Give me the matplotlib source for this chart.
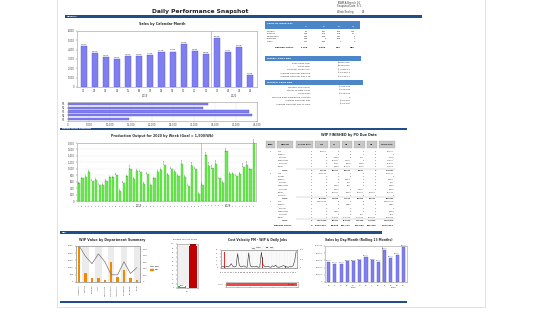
import matplotlib
matplotlib.use("Agg")
import matplotlib.pyplot as plt
from matplotlib.patches import Rectangle
from matplotlib.lines import Line2D

W, H = 560, 333
BLUE = '#1F4E8C'
HDR = '#4A86C8'
PURPLE = '#7F7FF2'
GREEN = '#6CEB4F'
ORANGE = '#F08A00'

# ---- data ----
month_labels = ['01', '02', '03', '04', '05', '06', '07', '08', '09', '10', '11', '12', '01', '02', '03', '04']
month_sales = [4371, 3652, 3224, 3040, 3302, 3359, 3458, 3718, 3793, 4629, 3873, 3536, 5249, 3757, 4278, 1316]

rep_labels = ['R1', 'R2', 'R3', 'R4', 'R5']
rep_sales = [33450, 32240, 43070, 43800, 14440]

weeks_2019 = list(range(17, 53))
output_2019 = [545, 700, 750, 910, 630, 650, 490, 490, 630, 730, 730, 800, 315, 565, 765, 1005, 690, 930,
               910, 525, 850, 490, 700, 910, 960, 1110, 805, 995, 910, 785, 1160, 755, 460, 1090, 985, 210]
weeks_2020 = list(range(1, 17))
output_2020 = [500, 1415, 1100, 1010, 1150, 700, 560, 1540, 830, 850, 790, 850, 1050, 1130, 980, 1800]

dept_names = ['Assembly', 'Cutting', 'Welding', 'Paint', 'Machining', 'Fabrication', 'Inspection', 'Packaging', 'Shipping', 'Other']
dept_wip = [2500, 630, 257, 304, 117, 1400, 350, 818, 280, 140]
dept_days = [5.5, 3.9, 2.8, 4.3, 3.1, 1.1, 1.1, 3.1, 1.3, 2.2]

share_labels = ['On Time', 'Late']
share_values = [3.5, 96.5]

velocity_actual = [3, 4, 2, 5, 3, 6, 12, 4, 3, 5, 40, 8, 3, 4, 6, 3, 2, 42, 6, 3, 4, 3, 5, 2,
                   3, 44, 10, 4, 3, 5, 3, 2, 6, 4, 8, 3, 2, 3, 5, 7, 4, 3, 2, 4, 3, 6, 20, 46]
velocity_plan = [0, 0, 45, 0, 0, 0, 0, 0, 0, 0, 0, 0, 0, 0, 0, 0, 0, 0, 0, 0, 0, 0, 0, 0,
                 0, 0, 30, 0, 0, 0, 0, 0, 0, 0, 0, 0, 0, 0, 0, 0, 6, 0, 0, 0, 0, 0, 0, 0]
velocity_total = 36000

roll_labels = ['04', '05', '06', '07', '08', '09', '10', '11', '12', '01', '02', '03', '04']
roll_sales = [56000, 51000, 50000, 58000, 58000, 61000, 70000, 61000, 56000, 89000, 68000, 75000, 98000]

weekday_cols = ['T1', 'T2', 'T3', 'T4']
weekday_rows = ['Monday', 'Tuesday', 'Wednesday', 'Thursday', 'Friday']
weekday_vals = [['70', '387', '165', '314'], ['313', '478', '115', '71'], ['313', '238', '341', '1'],
                ['346', '5', '188', '1'], ['317', '816', '7', '2']]
weekday_total = ['1,168', '1,895', '516', '388']

weekly_labels = ['2020 Sales Goal', 'Sales Total', 'Sales per Production', 'Average Sales per Machine', 'Average Sales per Day FTD']
weekly_vals = ['$2,800,000', '$2,233,922', '$ 4,800.12', '$ 18,322.4', '$ 13,054.2']
monthly_labels = ['Monthly Sales Goal', 'Month To Date Sales', 'Sales Days', 'Working Days Remaining in Month',
                  'Average Sales per Day', 'Average Sales per Day to Goal']
monthly_vals = ['$ 450,000', '$ 313,420', '$ 108,320', '5', '$ 22,540', '$ 18,276']

wip_cols = ['Line\nLevel', 'Weekday', 'No Due Date', 'OTD', 'W1', 'W2', 'W3', 'W4', 'Grand Total']
wip_rows = [
    ('1', 'OTD', '0', '74,000', '0', '0', '0', '0', '74,000'),
    ('', 'Monday', '0', '0', '0', '0', '0', '0', '0'),
    ('', 'Tuesday', '0', '0', '1,250', '0', '450', '0', '1,700'),
    ('', 'Wednesday', '0', '0', '22,187', '4,470', '0', '0', '26,657'),
    ('', 'Thursday', '0', '0', '7,157', '8,000', '2,360', '0', '17,517'),
    ('', 'Friday', '0', '0', '2,423', '12,100', '3,700', '0', '18,223'),
    ('', 'TOTAL', '0', '74,000', '33,017', '24,570', '6,510', '0', '138,097'),
    ('2', 'OTD', '0', '259,507', '0', '0', '0', '0', '259,507'),
    ('', 'Sunday', '0', '0', '0', '0', '0', '0', '0'),
    ('', 'Monday', '0', '0', '0', '4,543', '0', '0', '4,543'),
    ('', 'Tuesday', '0', '0', '0', '650', '0', '0', '650'),
    ('', 'Wednesday', '0', '0', '2,054', '126', '0', '0', '2,180'),
    ('', 'Thursday', '0', '0', '2,770', '0', '4,200', '0', '6,970'),
    ('', 'Friday', '0', '0', '10,012', '8,210', '20,120', '24,400', '62,742'),
    ('', 'Saturday', '0', '0', '0', '0', '0', '0', '0'),
    ('', 'TOTAL', '0', '259,507', '14,836', '13,529', '24,320', '24,400', '336,592'),
    ('3', 'OTD', '0', '1,090,000', '0', '0', '0', '0', '1,090,000'),
    ('', 'Monday', '0', '0', '0', '2,850', '0', '0', '2,850'),
    ('', 'Tuesday', '0', '0', '0', '0', '0', '0', '0'),
    ('', 'Wednesday', '0', '0', '2,520', '0', '0', '0', '2,520'),
    ('', 'Thursday', '0', '0', '0', '0', '700', '0', '700'),
    ('', 'Friday', '0', '0', '45,632', '211,170', '110,000', '135,000', '501,802'),
    ('', 'TOTAL', '0', '1,090,000', '48,152', '214,020', '110,700', '135,000', '1,597,872'),
]
wip_total = ('REPORT TOTAL', '0', '1,423,507', '96,005', '252,119', '141,530', '159,400', '2,072,561')

# ---- helpers ----
fig = plt.figure(figsize=(W / 100, H / 100), dpi=100)
fig.patch.set_facecolor('white')


def px_axes(x0, y0, x1, y1):
    return fig.add_axes([x0 / W, 1 - y1 / H, (x1 - x0) / W, (y1 - y0) / H])


def txt(x, y, s, size=1.8, **kw):
    kw.setdefault('va', 'center')
    fig.text(x / W, 1 - y / H, s, fontsize=size, **kw)


def rect(x, y, w, h, color, **kw):
    fig.add_artist(Rectangle((x / W, 1 - (y + h) / H), w / W, h / H, transform=fig.transFigure,
                             facecolor=color, edgecolor=kw.pop('ec', 'none'), lw=kw.pop('lw', 0), **kw))


def hline(x0, x1, y, color, lw):
    fig.add_artist(Line2D([x0 / W, x1 / W], [1 - y / H, 1 - y / H], transform=fig.transFigure, color=color, lw=lw))


def vline(x, y0, y1, color, lw):
    fig.add_artist(Line2D([x / W, x / W], [1 - y0 / H, 1 - y1 / H], transform=fig.transFigure, color=color, lw=lw))


def style(ax, fs=1.8):
    for s in ax.spines.values():
        s.set_color('#9A9A9A')
        s.set_linewidth(0.4)
    ax.tick_params(labelsize=fs, length=1, width=0.3, pad=0.8, colors='#444444')


# ---- page frame ----
vline(57, 0, 307, '#DDDDDD', 0.6)
vline(485, 0, 307, '#DDDDDD', 0.6)
hline(57, 485, 307, '#DDDDDD', 0.6)

txt(200, 11, 'Daily Performance Snapshot', size=4.3, weight='bold', ha='center', color='#222222')
txt(337, 3, 'TEAM A Branch 01', size=1.8, color='#333333')
txt(337, 5.5, 'Snapshot Date  5/1', size=1.8, color='#333333')
txt(337, 12, 'Week Ending', size=1.8, color='#333333')
txt(362, 12, '26', size=1.8, color='#333333')

for (x0, x1, y, lab) in [(65, 422, 15, 'OVERALL'), (60, 407, 127.5, 'PRODUCTION SUMMARY'),
                         (60, 382, 231, 'WIP'), (60, 407, 300.5, '')]:
    rect(x0, y, x1 - x0, 2.5, BLUE)
    if lab:
        txt(x0 + 2, y + 1.3, lab, size=1.5, color='white', weight='bold')

# ---- Sales by calendar month ----
ax = px_axes(77, 31, 257, 87)
style(ax)
xs = range(len(month_sales))
ax.bar(xs, month_sales, width=0.55, color=PURPLE, edgecolor='#5A5AD0', lw=0.3)
for i, v in zip(xs, month_sales):
    ax.text(i, v + 120, f'{v:,}', ha='center', va='bottom', fontsize=1.6, color='#333333')
ax.axvline(11.5, color='#999999', lw=0.4)
ax.set_xlim(-0.6, len(month_sales) - 0.4)
ax.set_ylim(0, 6000)
ax.set_yticks(range(0, 6001, 1000))
ax.set_yticklabels([f'{t:,}' for t in range(0, 6001, 1000)])
ax.set_xticks(list(xs))
ax.set_xticklabels(month_labels)
ax.text(5.5, -0.17, '2019', transform=ax.get_xaxis_transform(), ha='center', fontsize=1.8, color='#444444')
ax.text(13.5, -0.17, '2020', transform=ax.get_xaxis_transform(), ha='center', fontsize=1.8, color='#444444')
txt(162, 24, 'Sales by Calendar Month', size=2.4, weight='bold', ha='center', color='#333333')

# ---- rep horizontal bars ----
ax = px_axes(68, 102, 257, 121)
style(ax)
ax.barh(range(len(rep_sales)), rep_sales, height=0.55, color=PURPLE, edgecolor='#5A5AD0', lw=0.3)
ax.set_yticks(range(len(rep_sales)))
ax.set_yticklabels(rep_labels)
ax.invert_yaxis()
ax.set_xlim(0, 45000)
ax.set_xticks(range(0, 45001, 5000))
ax.set_xticklabels([f'{t:,}' for t in range(0, 45001, 5000)])
ax.grid(axis='x', color='#E2E2E2', lw=0.3)
ax.set_axisbelow(True)

# ---- Sales by week day table ----
rect(265, 21, 95, 8, HDR)
txt(267, 23, 'Sales by Week Day', size=1.7, color='white', weight='bold')
col_x = [308, 326, 341, 355]
for cx, c in zip(col_x, weekday_cols):
    txt(cx, 26.5, c, size=1.6, color='white', ha='right')
for r, (lab, vals) in enumerate(zip(weekday_rows, weekday_vals)):
    y = 31 + r * 2.6
    txt(267, y, lab, size=1.6, color='#333333')
    for cx, v in zip(col_x, vals):
        txt(cx, y, v, size=1.6, color='#333333', ha='right')
txt(275, 48, 'REPORT TOTAL', size=1.6, color='#222222', weight='bold')
for cx, v in zip(col_x, weekday_total):
    txt(cx, 48, v, size=1.6, color='#222222', ha='right', weight='bold')

rect(265, 56, 96, 5, HDR)
txt(267, 58.5, 'Weekly Sales Rep', size=1.7, color='white', weight='bold')
for r, (lab, v) in enumerate(zip(weekly_labels, weekly_vals)):
    y = 63 + r * 3.4
    txt(310, y, lab, size=1.6, color='#333333', ha='right')
    txt(350, y, v, size=1.6, color='#333333', ha='right')

rect(265, 80, 98, 5, HDR)
txt(267, 82.5, 'Monthly Sales Rep', size=1.7, color='white', weight='bold')
for r, (lab, v) in enumerate(zip(monthly_labels, monthly_vals)):
    y = 87 + r * 3.4
    txt(310, y, lab, size=1.6, color='#333333', ha='right')
    txt(350, y, v, size=1.6, color='#333333', ha='right')

# ---- Production output by week ----
ax = px_axes(77, 143, 256, 201)
style(ax)
out_all = output_2019 + output_2020
wk_all = weeks_2019 + weeks_2020
xs = range(len(out_all))
ax.bar(xs, out_all, width=0.62, color=GREEN, edgecolor='#3DBB2A', lw=0.25)
for i, v in zip(xs, out_all):
    ax.text(i, v + 25, f'{v:,}', ha='center', va='bottom', rotation=90, fontsize=1.3, color='#444444')
ax.axvline(len(output_2019) - 0.5, color='#999999', lw=0.4)
ax.set_xlim(-0.6, len(out_all) - 0.4)
ax.set_ylim(0, 1800)
ax.set_yticks(range(0, 1801, 200))
ax.set_yticklabels([f'{t:,}' for t in range(0, 1801, 200)])
ax.set_xticks(list(xs))
ax.set_xticklabels([str(w) for w in wk_all], rotation=90)
ax.tick_params(axis='x', labelsize=1.3)
ax.grid(axis='y', color='#E8E8E8', lw=0.3)
ax.set_axisbelow(True)
ax.text((len(output_2019) - 1) / 2, -0.11, '2019', transform=ax.get_xaxis_transform(), ha='center', fontsize=1.8, color='#444444')
ax.text(len(output_2019) + (len(output_2020) - 1) / 2, -0.11, '2020', transform=ax.get_xaxis_transform(), ha='center', fontsize=1.8, color='#444444')
txt(162, 136, 'Production Output for 2020 by Week (Goal = 1,500/Wk)', size=2.3, weight='bold', ha='center', color='#333333')

# ---- WIP finished table ----
txt(349, 135, 'WIP FINISHED by PO Due Date', size=2.4, weight='bold', ha='center', color='#333333')
col_edges = [(266, 275), (277, 293), (296, 313), (315, 328), (330, 340), (342, 352), (354, 365), (367, 377), (379, 395)]
for (a, b), c in zip(col_edges, wip_cols):
    rect(a, 141, b - a, 7, '#C8C8C8', ec='#9A9A9A', lw=0.2)
    txt((a + b) / 2, 144.5, c, size=1.3, ha='center', color='#222222', weight='bold', linespacing=0.9)
for r, row in enumerate(wip_rows):
    y = 151 + r * 3.17
    bold = 'bold' if row[1] == 'TOTAL' else 'normal'
    txt(270, y, row[0], size=1.4, ha='center', color='#333333')
    txt(278 if bold == 'normal' else 282, y, row[1], size=1.4, color='#333333', weight=bold)
    for (a, b), v in zip(col_edges[2:], row[2:]):
        txt(b - 1, y, v, size=1.4, ha='right', color='#333333', weight=bold)
    if bold == 'bold':
        hline(296, 395, y - 1.5, '#888888', 0.2)
txt(283, 226, wip_total[0], size=1.5, ha='center', color='#222222', weight='bold')
for (a, b), v in zip(col_edges[2:], wip_total[1:]):
    txt(b - 1, 226, v, size=1.5, ha='right', color='#222222', weight='bold')

# ---- WIP value by department ----
ax = px_axes(76, 246, 140, 282)
style(ax, 1.5)
xs = range(len(dept_wip))
for i in xs:
    if i % 2 == 1:
        ax.axvspan(i - 0.5, i + 0.5, color='#EBEBEB', lw=0, zorder=0)
ax.bar(xs, dept_wip, width=0.38, color=ORANGE, zorder=2, label='Bar')
ax.set_xlim(-0.5, len(dept_wip) - 0.5)
ax.set_ylim(0, 2500)
ax.set_yticks(range(0, 2501, 500))
ax.set_xticks(list(xs))
ax.set_xticklabels(dept_names, rotation=90)
ax2 = ax.twinx()
ax2.plot(xs, dept_days, color='#777777', lw=0.5, label='Line')
ax2.set_ylim(0, 5.5)
ax2.set_yticks([0, 1, 2, 3, 4, 5])
ax2.set_yticklabels(['0', '1.00', '2.00', '3.00', '4.00', '5.00'])
style(ax2, 1.5)
txt(112, 240, 'WIP Value by Department Summary', size=2.3, weight='bold', ha='center', color='#333333')
fig.legend(handles=[Line2D([], [], color='#777777', lw=0.5, label='Line'),
                    Rectangle((0, 0), 1, 1, color=ORANGE, label='Bar')],
           loc='center left', bbox_to_anchor=(148 / W, 1 - 268 / H), fontsize=1.6, frameon=False,
           handlelength=1.2, handleheight=0.8, labelspacing=0.6)

# ---- Bargain velocity share ----
ax = px_axes(177, 244, 198, 288)
style(ax, 1.3)
ax.set_facecolor('#F0F0F0')
ax.bar([0, 1], share_values, width=0.75, color=['#3CB043', '#C00000'])
for i, v in enumerate(share_values):
    ax.text(i, v + 0.5, f'{v}%', ha='center', va='bottom', fontsize=1.3, color='#222222',
            bbox=dict(boxstyle='square,pad=0.15', fc='white' if i == 0 else '#C00000', ec='none'))
ax.set_ylim(0, 100)
ax.set_xlim(-0.5, 1.5)
ax.set_yticks(range(0, 101, 10))
ax.set_xticks([0.5])
ax.set_xticklabels(['0%'])
txt(185, 239, 'Bargain Velocity Share', size=1.5, ha='center', color='#333333')

# ---- Cost velocity line ----
ax = px_axes(221, 250, 297, 268)
style(ax, 1.3)
xs = range(len(velocity_actual))
ax.bar(xs, velocity_plan, width=0.6, color='#E03030', label='Plan')
ax.plot(xs, velocity_actual, color='#333333', lw=0.4, label='Actual')
ax.set_xlim(-0.5, len(velocity_actual) - 0.5)
ax.set_ylim(0, 50)
ax.set_yticks([0, 10, 20, 30, 40, 50])
ax.set_xticks(list(xs))
ax.set_xticklabels([f'{i + 1:02d}' for i in xs], rotation=90)
ax.tick_params(axis='x', labelsize=1.1)
ax.grid(axis='x', color='#DDDDDD', lw=0.25)
ax.set_axisbelow(True)
ax3 = ax.twinx()
ax3.set_ylim(0, 50)
ax3.set_yticks([0, 25, 50])
ax3.set_yticklabels(['0', '25.0', '50.0'])
style(ax3, 1.3)
ax.legend(loc='lower center', bbox_to_anchor=(0.55, 1.0), ncol=2, fontsize=1.4, frameon=True,
          fancybox=False, edgecolor='#BBBBBB', handlelength=1.2, borderpad=0.3).get_frame().set_linewidth(0.2)
txt(257, 240, 'Cost Velocity PM - WIP & Daily Jobs', size=2.2, weight='bold', ha='center', color='#333333')

ax = px_axes(226, 282, 298, 287)
style(ax, 1.3)
ax.barh([0], [velocity_total], height=0.7, color='#F04848')
ax.text(velocity_total * 0.98, 0, f'${velocity_total:,}', ha='right', va='center', fontsize=1.3, color='#800000')
ax.set_xlim(0, velocity_total * 1.02)
ax.set_ylim(-0.5, 0.5)
ax.set_yticks([0])
ax.set_yticklabels(['TOTAL'])
ax.set_xticks(range(0, velocity_total + 1, 6000))
ax.set_xticklabels([])

# ---- rolling 13 months ----
ax = px_axes(325, 246, 407, 282)
style(ax, 1.4)
xs = range(len(roll_sales))
ax.bar(xs, roll_sales, width=0.5, color=PURPLE, edgecolor='#5A5AD0', lw=0.3)
for i, v in zip(xs, roll_sales):
    ax.text(i, v + 1500, f'{v:,}', ha='center', va='bottom', fontsize=1.2, color='#333333')
ax.axvline(8.5, color='#999999', lw=0.4)
ax.set_xlim(-0.6, len(roll_sales) - 0.4)
ax.set_ylim(0, 100000)
ax.set_yticks(range(0, 100001, 20000))
ax.set_yticklabels([f'{t:,}' for t in range(0, 100001, 20000)])
ax.set_xticks(list(xs))
ax.set_xticklabels(roll_labels)
ax.text(4, -0.17, '2019', transform=ax.get_xaxis_transform(), ha='center', fontsize=1.6, color='#444444')
ax.text(10.5, -0.17, '2020', transform=ax.get_xaxis_transform(), ha='center', fontsize=1.6, color='#444444')
txt(359, 240, 'Sales by Day/Month (Rolling 13 Months)', size=2.2, weight='bold', ha='center', color='#333333')

fig.savefig('out.png', dpi=100)
